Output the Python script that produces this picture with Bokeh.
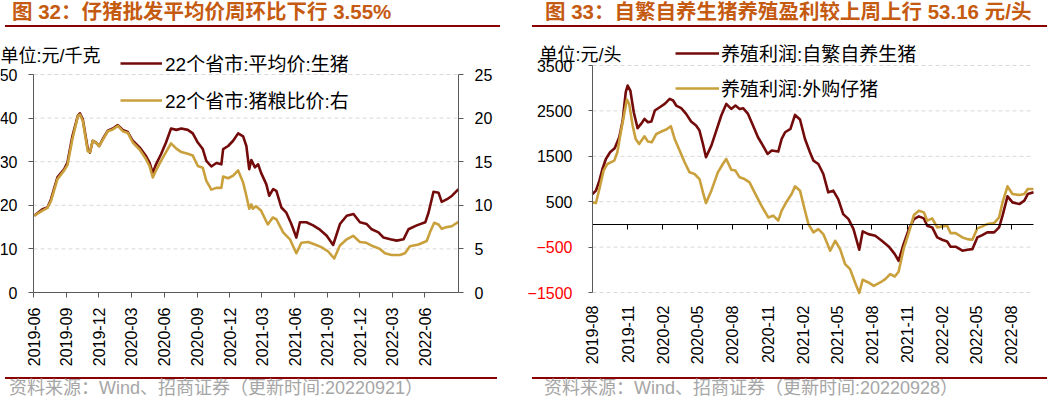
import math
import pandas as pd
from bokeh.plotting import figure
from bokeh.models import (Range1d, LinearAxis, DatetimeAxis, FixedTicker, DatetimeTickFormatter,
                          Legend, LegendItem, Label, Div, Spacer, CustomJSTickFormatter,
                          ColumnDataSource)
from bokeh.layouts import row, column
from bokeh.embed import file_html
from bokeh.resources import INLINE

# ---------------- left chart data ----------------
left_title = "图 32：仔猪批发平均价周环比下行 3.55%"
left_source = "资料来源：Wind、招商证券（更新时间:20220921）"
left_unit = "单位:元/千克"
left_names = ["22个省市:平均价:生猪", "22个省市:猪粮比价:右"]
left_ticks = ["2019-06", "2019-09", "2019-12", "2020-03", "2020-06", "2020-09", "2020-12",
              "2021-03", "2021-06", "2021-09", "2021-12", "2022-03", "2022-06"]
left_y_ticks = [0, 10, 20, 30, 40, 50]
left_y2_ticks = [0, 5, 10, 15, 20, 25]
left_x_start = "2019-06-01"

price_dates = ["2019-06-03", "2019-06-26", "2019-07-10", "2019-07-20", "2019-08-07", "2019-08-26",
               "2019-09-04", "2019-09-18", "2019-10-03", "2019-10-09", "2019-10-17", "2019-10-31",
               "2019-11-06", "2019-11-14", "2019-11-23", "2019-12-02", "2019-12-12", "2019-12-26",
               "2020-01-09", "2020-01-23", "2020-02-06", "2020-02-20", "2020-03-05", "2020-03-24",
               "2020-04-11", "2020-04-21", "2020-04-30", "2020-05-09", "2020-05-23", "2020-06-06",
               "2020-06-20", "2020-07-05", "2020-07-19", "2020-08-06", "2020-08-20", "2020-09-03",
               "2020-09-17", "2020-09-27", "2020-10-11", "2020-10-25", "2020-11-08", "2020-11-13",
               "2020-11-27", "2020-12-11", "2020-12-25", "2021-01-08", "2021-01-17", "2021-01-25",
               "2021-01-31", "2021-02-10", "2021-02-19",
               "2021-02-27", "2021-03-14", "2021-03-22", "2021-04-02", "2021-04-11", "2021-04-25",
               "2021-05-09", "2021-05-23", "2021-06-06", "2021-06-16", "2021-07-04", "2021-07-23",
               "2021-08-11", "2021-08-30", "2021-09-17", "2021-10-06", "2021-10-25", "2021-11-13",
               "2021-12-01", "2021-12-20", "2022-01-03", "2022-01-22", "2022-02-05", "2022-02-24",
               "2022-03-14", "2022-04-02", "2022-04-16", "2022-05-09", "2022-06-02", "2022-06-11",
               "2022-06-25", "2022-07-09", "2022-07-18", "2022-08-02", "2022-08-16", "2022-09-03"]
price_values = [17.6, 19.1, 19.5, 21.4, 26.4, 28.3, 29.8, 35.9, 40.5, 41.1, 39.7, 32.9,
                32.1, 34.8, 34.4, 33.6, 35.2, 37.1, 37.6, 38.4, 37.3, 36.8, 34.8, 33.3,
                31.3, 29.8, 27.4, 29.4, 31.7, 34.4, 37.6, 37.3, 37.6, 37.3, 36.5, 34.4,
                32.9, 30.2, 28.9, 29.7, 29.4, 32.9, 33.6, 34.8, 36.5, 35.8, 33.6, 28.3,
                30.4, 28.7, 29.4,
                27.5, 24.8, 22.2, 23.7, 23.3, 19.5, 18.3, 15.7, 12.6, 16.1, 16.1, 15.4,
                14.4, 13.0, 10.9, 15.7, 17.6, 18.0, 16.1, 15.7, 14.5, 13.8, 12.6, 12.2,
                11.9, 12.2, 14.5, 15.4, 16.1, 18.3, 23.1, 22.9, 20.8, 21.4, 22.2, 23.7]

ratio_dates = ["2019-06-03", "2019-06-26", "2019-07-10", "2019-07-20", "2019-08-07", "2019-08-26",
               "2019-09-04", "2019-09-18", "2019-10-03", "2019-10-09", "2019-10-17", "2019-10-31",
               "2019-11-06", "2019-11-14", "2019-11-23", "2019-12-02", "2019-12-12", "2019-12-26",
               "2020-01-09", "2020-01-23", "2020-02-06", "2020-02-20", "2020-03-05", "2020-03-24",
               "2020-04-11", "2020-04-21", "2020-04-30", "2020-05-09", "2020-05-23", "2020-06-06",
               "2020-06-20", "2020-07-05", "2020-07-19", "2020-08-06", "2020-08-20", "2020-09-03",
               "2020-09-17", "2020-09-27", "2020-10-11", "2020-10-25", "2020-11-08", "2020-11-13",
               "2020-11-27", "2020-12-11", "2020-12-25", "2021-01-08", "2021-01-17", "2021-01-25",
               "2021-01-31",
               "2021-02-04", "2021-02-13", "2021-02-27", "2021-03-18", "2021-04-01", "2021-04-11",
               "2021-04-30", "2021-05-19", "2021-06-06", "2021-06-20", "2021-07-09", "2021-07-28",
               "2021-08-15", "2021-09-03", "2021-09-20", "2021-10-06", "2021-10-25", "2021-11-12",
               "2021-12-01", "2021-12-19", "2022-01-07", "2022-01-26", "2022-02-09", "2022-02-28",
               "2022-03-23", "2022-04-06", "2022-04-20", "2022-05-14", "2022-06-06", "2022-06-15",
               "2022-06-27", "2022-07-09", "2022-07-18", "2022-08-01", "2022-08-15", "2022-09-03"]
ratio_values = [8.8, 9.4, 9.7, 10.5, 13.0, 14.0, 14.6, 17.6, 20.2, 20.4, 19.7, 16.2,
                16.1, 17.4, 17.2, 16.8, 17.5, 18.5, 18.7, 19.1, 18.5, 18.3, 17.2, 16.4,
                15.3, 14.5, 13.2, 14.0, 15.1, 16.1, 17.1, 16.5, 16.1, 15.9, 15.7, 14.5,
                14.3, 12.8, 11.8, 12.0, 12.0, 13.3, 13.1, 13.4, 14.0, 12.6, 11.1, 9.6,
                10.1,
                9.6, 9.9, 9.4, 7.8, 8.6, 8.4, 6.9, 6.1, 4.5, 5.7, 5.8, 5.5,
                5.2, 4.7, 3.9, 5.4, 6.1, 6.5, 5.8, 5.7, 5.3, 5.0, 4.5, 4.3,
                4.3, 4.5, 5.3, 5.5, 5.9, 6.9, 8.0, 7.8, 7.3, 7.5, 7.6, 8.1]

# ---------------- right chart data ----------------
right_title = "图 33：自繁自养生猪养殖盈利较上周上行 53.16 元/头"
right_source = "资料来源：Wind、招商证券（更新时间:20220928）"
right_unit = "单位:元/头"
right_names = ["养殖利润:自繁自养生猪", "养殖利润:外购仔猪"]
right_ticks = ["2019-08", "2019-11", "2020-02", "2020-05", "2020-08", "2020-11", "2021-02",
               "2021-05", "2021-08", "2021-11", "2022-02", "2022-05", "2022-08"]
right_y_ticks = [-1500, -500, 500, 1500, 2500, 3500]

self_dates = ["2019-08-01", "2019-08-10", "2019-08-19", "2019-08-27", "2019-09-05", "2019-09-16",
              "2019-09-28", "2019-10-10", "2019-10-19", "2019-10-27", "2019-11-01", "2019-11-08",
              "2019-11-17", "2019-11-27", "2019-12-06", "2019-12-15", "2019-12-24", "2020-01-02",
              "2020-01-11", "2020-01-24", "2020-02-06", "2020-02-19", "2020-02-28", "2020-03-07",
              "2020-03-20", "2020-04-02", "2020-04-15", "2020-04-28", "2020-05-07", "2020-05-16",
              "2020-05-24", "2020-06-07", "2020-06-20", "2020-07-03", "2020-07-16", "2020-07-29",
              "2020-08-09", "2020-08-20", "2020-08-29", "2020-09-11", "2020-09-24", "2020-10-07",
              "2020-10-20", "2020-11-01", "2020-11-12", "2020-11-29", "2020-12-08", "2020-12-17",
              "2020-12-31", "2021-01-12", "2021-01-25", "2021-02-07", "2021-02-20", "2021-03-01",
              "2021-03-14", "2021-03-27", "2021-04-09", "2021-04-22", "2021-05-05", "2021-05-18",
              "2021-06-01", "2021-06-14", "2021-06-29", "2021-07-08", "2021-07-23", "2021-08-10",
              "2021-08-27", "2021-09-14", "2021-09-30", "2021-10-10", "2021-10-23", "2021-11-06",
              "2021-11-19", "2021-12-02", "2021-12-15", "2021-12-24", "2022-01-06", "2022-01-19",
              "2022-02-01", "2022-02-14", "2022-02-23", "2022-03-08", "2022-03-26", "2022-04-08",
              "2022-04-21", "2022-05-04", "2022-05-17", "2022-05-30", "2022-06-17", "2022-06-30",
              "2022-07-09", "2022-07-22", "2022-08-04", "2022-08-22", "2022-09-04", "2022-09-13",
              "2022-09-28"]
self_values = [669, 743, 964, 1220, 1441, 1588, 1677, 1919, 2287, 2912, 3059, 2949,
               2471, 2118, 2213, 2323, 2250, 2265, 2508, 2581, 2654, 2764, 2728, 2618,
               2559, 2434, 2265, 2177, 2067, 1771, 1478, 1736, 2067, 2398, 2654, 2544,
               2618, 2544, 2559, 2434, 2177, 1919, 1736, 1551, 1626, 1604, 1882, 2030,
               2102, 2411, 2310, 1882, 1588, 1405, 1331, 1110, 706, 743, 558, 227,
               117, -104, -558, -154, -214, -250, -360, -485, -655, -801, -435, -104,
               117, 176, 132, -29, -66, -287, -338, -375, -492, -492, -580, -558,
               -545, -287, -236, -176, -176, -66, 192, 618, 485, 448, 523, 668,
               706]

bought_dates = ["2019-08-01", "2019-08-10", "2019-08-19", "2019-08-30", "2019-09-09", "2019-09-27",
                "2019-10-05", "2019-10-14", "2019-10-23", "2019-10-30", "2019-11-05", "2019-11-14",
                "2019-11-22", "2019-12-01", "2019-12-15", "2019-12-24", "2020-01-03", "2020-01-15",
                "2020-01-28", "2020-02-10", "2020-02-22", "2020-03-03", "2020-03-16", "2020-03-29",
                "2020-04-11", "2020-04-24", "2020-05-07", "2020-05-16", "2020-05-24", "2020-06-07",
                "2020-06-24", "2020-07-07", "2020-07-16", "2020-07-29", "2020-08-09", "2020-08-20",
                "2020-09-02", "2020-09-15", "2020-09-28", "2020-10-16", "2020-11-03", "2020-11-16",
                "2020-11-29", "2020-12-08", "2020-12-21", "2021-01-03", "2021-01-12", "2021-01-25",
                "2021-02-07", "2021-02-16", "2021-03-01", "2021-03-14", "2021-03-27", "2021-04-14",
                "2021-04-27", "2021-05-10", "2021-05-23", "2021-06-05", "2021-06-18", "2021-06-29",
                "2021-07-08", "2021-07-23", "2021-08-06", "2021-08-23", "2021-09-05", "2021-09-18",
                "2021-09-30", "2021-10-10", "2021-10-23", "2021-11-06", "2021-11-19", "2021-12-02",
                "2021-12-15", "2021-12-24", "2022-01-06", "2022-01-19", "2022-02-01", "2022-02-14",
                "2022-02-23", "2022-03-08", "2022-03-26", "2022-04-08", "2022-04-21", "2022-05-04",
                "2022-05-17", "2022-05-30", "2022-06-17", "2022-06-30", "2022-07-09", "2022-07-22",
                "2022-08-04", "2022-08-22", "2022-09-04", "2022-09-13", "2022-09-28"]
bought_values = [485, 470, 779, 1185, 1331, 1405, 1588, 2030, 2433, 2751, 2654, 2177,
                 1882, 1771, 1941, 1824, 1809, 1992, 2045, 2089, 2162, 1882, 1626, 1368,
                 1147, 1110, 999, 706, 470, 743, 1147, 1331, 1441, 1206, 1185, 1037,
                 999, 927, 706, 412, 154, 192, 82, 302, 500, 669, 838, 743,
                 302, 7, -176, -104, -214, -580, -360, -545, -876, -986, -1279, -1510,
                 -1220, -1279, -1353, -1279, -1206, -1096, -1147, -1044, -545, -176, 205, 302,
                 265, 82, 132, -66, -44, -29, -192, -192, -287, -324, -338, -88,
                 -44, 7, 29, 154, 485, 838, 669, 646, 669, 779, 779]

# ---------------- styles / layout constants ----------------
DARK = "#730B0B"
GOLD = "#C9A03C"
TITLE_C = "#C55A11"
RULE_C = "#8B0000"
AXIS_C = "#595959"
GRID_C = "#D9D9D9"
NEG_C = "#FF0000"
NUM = "Liberation Sans"
MIX = "Liberation Sans, Noto Sans CJK SC"

FIG_H = 340          # figure height (the whole figure is the drawing frame)
PLOT_BOTTOM = 80     # px from figure bottom up to the plot's lower edge (x-label band)


def ts(s):
    return pd.Timestamp(s)


def ms(s):
    return pd.Timestamp(s).value / 1e6


def month_fmt():
    f = "%Y-%m"
    return DatetimeTickFormatter(microseconds=f, milliseconds=f, seconds=f, minsec=f, minutes=f,
                                 hourmin=f, hours=f, days=f, months=f, years=f)


def style_axis(ax, standoff, tick_out=5):
    ax.axis_line_color = AXIS_C
    ax.major_tick_line_color = AXIS_C
    ax.major_tick_out = tick_out
    ax.major_tick_in = 0
    ax.minor_tick_line_color = None
    ax.major_label_text_font = NUM
    ax.major_label_text_font_size = "16px"
    ax.major_label_text_color = "#000000"
    ax.major_label_standoff = standoff


def padded_x_range(first, last, fig_w, pad_left, pad_right):
    """x range so that [first, last] occupies the plot area between the paddings."""
    t0, t1 = ts(first), ts(last)
    per_px = (t1 - t0) / (fig_w - pad_left - pad_right)
    return Range1d(t0 - per_px * pad_left, t1 + per_px * pad_right)


def padded_y_range(lo, hi, plot_px, pad_top, pad_bottom=PLOT_BOTTOM):
    """y range so that [lo, hi] spans plot_px pixels with paddings above and below."""
    per_px = (hi - lo) / plot_px
    return Range1d(lo - per_px * pad_bottom, hi + per_px * pad_top)


def title_div(text, width, pad):
    return Div(text=text, width=width, height=22,
               styles={"font-size": "20.5px", "font-weight": "bold", "color": TITLE_C,
                       "font-family": MIX, "border-bottom": f"2px solid {RULE_C}",
                       "padding-left": f"{pad}px", "line-height": "14px",
                       "box-sizing": "border-box", "white-space": "nowrap"})


def source_div(text, width, pad):
    return Div(text=text, width=width, height=20,
               styles={"font-size": "18px", "color": "#A6A6A6", "font-family": MIX,
                       "border-top": f"2px solid {RULE_C}", "padding-left": f"{pad}px",
                       "line-height": "19px", "box-sizing": "border-box",
                       "white-space": "nowrap"})


def add_grid(p, ticks, x_first, x_last, **kw):
    src = ColumnDataSource(dict(y=ticks, x0=[ts(x_first)] * len(ticks), x1=[ts(x_last)] * len(ticks)))
    p.segment(x0="x0", x1="x1", y0="y", y1="y", source=src, line_color=GRID_C,
              line_width=1, line_dash="4 3", **kw)


def bare_figure(w, xr, yr):
    p = figure(width=w, height=FIG_H, x_axis_type="datetime", x_axis_location=None,
               y_axis_location=None, x_range=xr, y_range=yr,
               output_backend="svg", toolbar_location=None,
               min_border_left=0, min_border_right=0, min_border_top=0, min_border_bottom=0)
    p.outline_line_color = None
    p.grid.visible = False
    return p


# ---------------- left figure ----------------
LW = 500
L_PAD_L, L_PAD_R = 33, 42
L_PAD_T = 42
L_PLOT_PX = FIG_H - PLOT_BOTTOM - L_PAD_T

pL = bare_figure(LW, padded_x_range(left_x_start, price_dates[-1], LW, L_PAD_L, L_PAD_R),
                 padded_y_range(left_y_ticks[0], left_y_ticks[-1], L_PLOT_PX, L_PAD_T))
pL.extra_y_ranges = {"ratio": padded_y_range(left_y2_ticks[0], left_y2_ticks[-1], L_PLOT_PX, L_PAD_T)}

add_grid(pL, left_y_ticks[1:], left_x_start, price_dates[-1])

axLx = DatetimeAxis(fixed_location=left_y_ticks[0],
                    ticker=FixedTicker(ticks=[ms(t) for t in left_ticks]),
                    formatter=month_fmt(), major_label_orientation=math.pi / 2,
                    bounds=(ms(left_x_start), ms(price_dates[-1])))
style_axis(axLx, 10)
pL.add_layout(axLx, "below")

axL1 = LinearAxis(fixed_location=ms(left_x_start), ticker=FixedTicker(ticks=left_y_ticks),
                  bounds=(left_y_ticks[0], left_y_ticks[-1]))
style_axis(axL1, 11)
pL.add_layout(axL1, "left")

axL2 = LinearAxis(y_range_name="ratio", fixed_location=ms(price_dates[-1]),
                  ticker=FixedTicker(ticks=left_y2_ticks),
                  bounds=(left_y2_ticks[0], left_y2_ticks[-1]))
style_axis(axL2, 11)
pL.add_layout(axL2, "right")

rL1 = pL.line(x=pd.to_datetime(price_dates), y=price_values, line_color=DARK,
              line_width=2.6, line_join="round")
rL2 = pL.line(x=pd.to_datetime(ratio_dates), y=ratio_values, line_color=GOLD,
              line_width=2.6, line_join="round", y_range_name="ratio")

legL = Legend(items=[LegendItem(label=left_names[0], renderers=[rL1]),
                     LegendItem(label=left_names[1], renderers=[rL2])],
              location=(120, 259), orientation="vertical", padding=0, margin=0,
              spacing=10, glyph_width=42, glyph_height=22, label_height=22,
              label_standoff=3, label_text_font=MIX, label_text_font_size="19px",
              label_text_color="#000000", background_fill_alpha=0, border_line_color=None)
pL.add_layout(legL)

pL.add_layout(Label(x=0, y=317, x_units="screen", y_units="screen", text=left_unit,
                    text_font=MIX, text_font_size="18px", text_baseline="middle",
                    text_color="#000000"))

# ---------------- right figure ----------------
RW = 515
R_PAD_L, R_PAD_R = 65, 9
R_PAD_T = 33
R_PLOT_PX = FIG_H - PLOT_BOTTOM - R_PAD_T
x0R = self_dates[0]

pR = bare_figure(RW, padded_x_range(x0R, self_dates[-1], RW, R_PAD_L, R_PAD_R),
                 padded_y_range(right_y_ticks[0], right_y_ticks[-1], R_PLOT_PX, R_PAD_T))

add_grid(pR, right_y_ticks, x0R, self_dates[-1])

axRx = DatetimeAxis(fixed_location=right_y_ticks[0],
                    ticker=FixedTicker(ticks=[ms(t) for t in right_ticks]),
                    formatter=month_fmt(), major_label_orientation=math.pi / 2)
style_axis(axRx, 13, tick_out=0)
axRx.axis_line_color = None
axRx.major_tick_line_color = None
pR.add_layout(axRx, "below")

axZero = DatetimeAxis(fixed_location=0, ticker=FixedTicker(ticks=[ms(t) for t in right_ticks]),
                      formatter=CustomJSTickFormatter(code="return ''"),
                      bounds=(ms(x0R), ms(self_dates[-1])))
style_axis(axZero, 0, tick_out=5)
axZero.axis_line_color = "#000000"
axZero.major_tick_line_color = "#000000"
axZero.axis_line_width = 1.2
pR.add_layout(axZero, "below")

pos_ticks = [t for t in right_y_ticks if t >= 0]
neg_ticks = [t for t in right_y_ticks if t < 0]

axR1 = LinearAxis(fixed_location=ms(x0R), ticker=FixedTicker(ticks=pos_ticks),
                  bounds=(right_y_ticks[0], right_y_ticks[-1]))
style_axis(axR1, 16, tick_out=4)
pR.add_layout(axR1, "left")

axNeg = LinearAxis(fixed_location=ms(x0R), ticker=FixedTicker(ticks=neg_ticks))
style_axis(axNeg, 16, tick_out=4)
axNeg.axis_line_color = None
axNeg.major_label_text_color = NEG_C
pR.add_layout(axNeg, "left")

rR1 = pR.line(x=pd.to_datetime(self_dates), y=self_values, line_color=DARK,
              line_width=2.6, line_join="round")
rR2 = pR.line(x=pd.to_datetime(bought_dates), y=bought_values, line_color=GOLD,
              line_width=2.6, line_join="round")

legR = Legend(items=[LegendItem(label=right_names[0], renderers=[rR1]),
                     LegendItem(label=right_names[1], renderers=[rR2])],
              location=(148, 271), orientation="vertical", padding=0, margin=0,
              spacing=8, glyph_width=44, glyph_height=22, label_height=22,
              label_standoff=2, label_text_font=MIX, label_text_font_size="19px",
              label_text_color="#000000", background_fill_alpha=0, border_line_color=None)
pR.add_layout(legR)

pR.add_layout(Label(x=12, y=318, x_units="screen", y_units="screen", text=right_unit,
                    text_font=MIX, text_font_size="18px", text_baseline="middle",
                    text_color="#000000"))

# ---------------- layout ----------------
left_col = column(title_div(left_title, 495, 7), pL, source_div(left_source, 492, 4))
right_col = column(title_div(right_title, 515, 13), pR, source_div(right_source, 515, 12))
layout = row(left_col, Spacer(width=22), right_col)

open("out.html", "w").write(file_html(layout, INLINE))
